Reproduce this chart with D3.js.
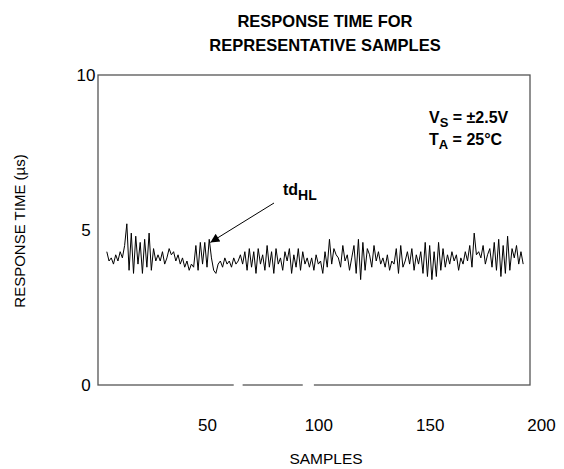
<!DOCTYPE html>
<html lang="en">
<head>
<meta charset="UTF-8">
<title>Response time for representative samples</title>
<style>
    body { margin: 0; background: #fff; }
    svg { font-family: "Liberation Sans", Arial, sans-serif; }
</style>
</head>
<body>
<svg id="chart" width="564" height="469"></svg>
<script src="https://unpkg.com/d3@7.8.2/dist/d3.min.js"></script>
<script>
    // response time (us), one value per sample, starting at sample 5
    const firstSample = 5
    const tdHL = [
        4.3, 4.0, 4.1, 3.9, 4.2, 4.0, 4.3, 4.1, 4.5,
        5.2,
        3.7, 4.9, 3.6, 4.8, 3.9, 4.6, 3.6, 4.7, 3.8, 4.9, 3.7, 4.4, 4.0,
        4.2, 4.0, 4.3, 3.9, 4.1, 4.4, 4.2, 4.3, 4.0, 4.2, 3.9, 4.1, 3.8, 4.0, 3.7, 3.9,
        3.8, 4.5, 3.7, 4.6, 3.9, 4.6, 3.8, 4.7, 4.1, 3.7, 3.6,
        3.9, 4.0, 3.8, 4.1, 3.9, 4.0, 3.8, 4.1, 3.9, 4.0, 4.2, 3.9,
        4.3, 3.7, 4.4, 3.8, 4.3, 3.6, 4.4, 3.9, 4.2, 3.7, 4.5, 3.8, 4.3, 3.6, 4.4, 3.9, 4.1, 3.7, 4.3, 4.0, 4.4, 3.6, 4.2, 3.8, 4.4, 3.7, 4.3, 3.9, 4.1,
        3.8, 4.1, 3.7, 4.2, 3.9, 4.0, 3.6, 4.3, 3.8, 4.7, 3.9, 4.4, 4.2, 4.1, 3.8, 4.5, 4.0, 4.2, 3.7, 4.1, 4.5, 3.6, 4.7, 3.4, 4.6, 3.7, 4.4, 4.2, 3.8, 4.5, 4.0, 4.3, 3.9, 4.1, 3.8,
        4.2, 3.7, 4.0, 3.9, 4.4, 3.6, 4.5, 3.8, 4.0, 4.3, 3.9, 4.4, 3.7, 4.2, 3.9, 4.3, 3.6, 4.6, 3.5, 4.5, 3.4, 4.3, 3.5, 4.6, 3.7,
        4.4, 3.8, 4.2, 3.9, 4.3, 4.0, 4.2, 3.7, 4.1, 3.9, 4.3, 4.0, 4.5, 3.8, 4.9, 4.2, 4.3, 4.1, 4.5, 3.9, 4.2, 4.4, 3.8, 4.6, 3.7, 4.7, 3.5, 4.5, 3.6, 4.8, 3.7, 4.4, 4.1, 4.5, 3.9, 4.3, 3.9
    ]
    const xTicks = [50, 100, 150, 200]
    const yTicks = [0, 5, 10]

    const svg = d3.select('#chart')
    const plotLeft = 98, plotRight = 530, plotTop = 75, plotBottom = 385

    const x = d3.scaleLinear().domain([50, 200]).range([207, 541])
    const y = d3.scaleLinear().domain([0, 10]).range([plotBottom, plotTop])

    // title
    const title = svg.append('g')
        .attr('text-anchor', 'middle')
        .attr('font-size', 16.5).attr('font-weight', 'bold')
    title.append('text').attr('x', 325).attr('y', 27).text('RESPONSE TIME FOR')
    title.append('text').attr('x', 325).attr('y', 51).text('REPRESENTATIVE SAMPLES')

    // axes (labels only, no tick marks)
    const xAxis = svg.append('g')
        .attr('transform', `translate(0,${plotBottom + 31})`)
        .call(d3.axisBottom(x).tickValues(xTicks).tickSize(0).tickPadding(0))
    const yAxis = svg.append('g')
        .attr('transform', `translate(86,0)`)
        .call(d3.axisLeft(y).tickValues(yTicks).tickSize(0).tickPadding(0))
    for (const ax of [xAxis, yAxis]) {
        ax.select('.domain').remove()
        ax.selectAll('text')
            .attr('font-family', '"Liberation Sans", Arial, sans-serif')
            .attr('font-size', 17)
            .attr('fill', '#000')
    }
    xAxis.selectAll('text').attr('dy', '0.9em')
    yAxis.selectAll('text').attr('text-anchor', 'middle')

    // frame
    svg.append('rect')
        .attr('x', plotLeft).attr('y', plotTop)
        .attr('width', plotRight - plotLeft).attr('height', plotBottom - plotTop)
        .attr('fill', 'none')
        .attr('stroke', '#555').attr('stroke-width', 1.3)
    // small breaks in the bottom edge
    svg.selectAll('.gap').data([[62, 66], [93, 98]]).enter().append('line')
        .attr('x1', d => x(d[0])).attr('x2', d => x(d[1]))
        .attr('y1', plotBottom).attr('y2', plotBottom)
        .attr('stroke', '#fff').attr('stroke-width', 2.5)

    // data line
    const line = d3.line()
        .x((d, i) => x(firstSample + i))
        .y(d => y(d))
    svg.append('path')
        .datum(tdHL)
        .attr('d', line)
        .attr('fill', 'none')
        .attr('stroke', '#000')
        .attr('stroke-width', 1)

    // axis titles
    svg.append('text')
        .attr('x', 326).attr('y', 464)
        .attr('text-anchor', 'middle')
        .attr('font-size', 15.5)
        .text('SAMPLES')
    svg.append('text')
        .attr('transform', 'translate(25,231) rotate(-90)')
        .attr('text-anchor', 'middle')
        .attr('font-size', 15)
        .text('RESPONSE TIME (\u00b5s)')

    // conditions
    const cond = svg.append('g').attr('font-size', 16).attr('font-weight', 'bold')
    const t1 = cond.append('text').attr('x', 429).attr('y', 123)
    t1.append('tspan').text('V')
    t1.append('tspan').attr('dy', 4).attr('font-size', 13).text('S')
    t1.append('tspan').attr('dy', -4).text(' = \u00b12.5V')
    const t2 = cond.append('text').attr('x', 429).attr('y', 145)
    t2.append('tspan').text('T')
    t2.append('tspan').attr('dy', 4).attr('font-size', 13).text('A')
    t2.append('tspan').attr('dy', -4).text(' = 25\u00b0C')

    // annotation
    const ann = svg.append('text').attr('x', 283).attr('y', 195)
        .attr('font-size', 16).attr('font-weight', 'bold')
    ann.append('tspan').text('td')
    ann.append('tspan').attr('dy', 5).attr('font-size', 14).text('HL')

    svg.append('defs').append('marker')
        .attr('id', 'arrow')
        .attr('viewBox', '0 0 10 10')
        .attr('refX', 10).attr('refY', 5)
        .attr('markerWidth', 13).attr('markerHeight', 9)
        .attr('markerUnits', 'userSpaceOnUse')
        .attr('orient', 'auto')
        .append('path').attr('d', 'M0,0 L10,5 L0,10 z').attr('fill', '#000')
    svg.append('line')
        .attr('x1', 274).attr('y1', 203)
        .attr('x2', x(51.5)).attr('y2', y(4.6))
        .attr('stroke', '#000').attr('stroke-width', 1)
        .attr('marker-end', 'url(#arrow)')
</script>
</body>
</html>
